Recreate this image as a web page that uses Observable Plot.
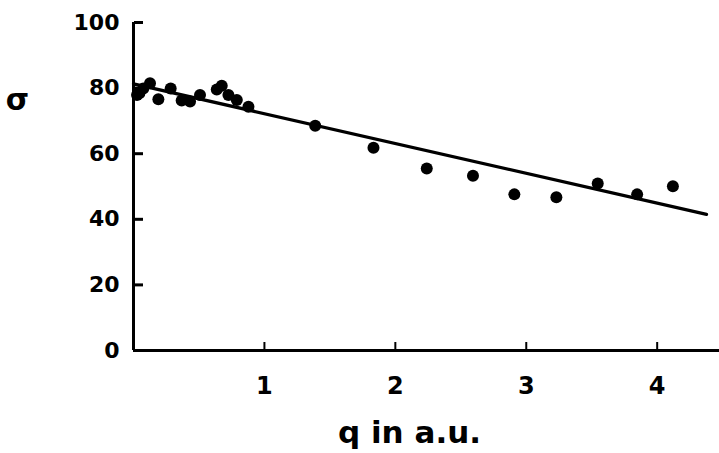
<!DOCTYPE html>
<html>
<head>
<meta charset="utf-8">
<script src="https://cdn.jsdelivr.net/npm/d3@7"></script>
<script src="https://cdn.jsdelivr.net/npm/@observablehq/plot@0.6"></script>
<style>
  html, body { margin: 0; padding: 0; background: #fff; }
  svg { display: block; }
</style>
</head>
<body>
<div id="chart"></div>
<script>
// Measured points: q (a.u.) and sigma
const qValues = [0.027, 0.045, 0.075, 0.126, 0.19, 0.284, 0.368, 0.432, 0.508, 0.636, 0.674, 0.725, 0.789, 0.878, 1.388, 1.833, 2.24, 2.593, 2.909, 3.23, 3.546, 3.847, 4.12];
const sigmaValues = [77.9, 78.4, 79.9, 81.5, 76.6, 79.9, 76.2, 75.9, 77.9, 79.6, 80.7, 77.9, 76.4, 74.3, 68.5, 61.8, 55.5, 53.3, 47.6, 46.7, 50.9, 47.6, 50.1];

// Fitted straight line
const lineQ = [0, 4.377];
const lineSigma = [81.3, 41.5];

const xTicks = [1, 2, 3, 4];
const yTickLabels = [0, 20, 40, 60, 80, 100];
const yTickMarks = [20, 40, 60, 80, 100];
const xLabel = "q in a.u.";
const yLabel = "σ";

const points = qValues.map((q, i) => ({q, s: sigmaValues[i]}));
const fit = lineQ.map((q, i) => ({q, s: lineSigma[i]}));

const W = 719, H = 453, ML = 133, MR = 0, MT = 22, MB = 103;
const frameW = W - ML - MR, frameH = H - MT - MB;

const chart = Plot.plot({
  width: W,
  height: H,
  marginLeft: ML,
  marginRight: MR,
  marginTop: MT,
  marginBottom: MB,
  style: {fontFamily: "DejaVu Sans", fontWeight: "bold", color: "#000", background: "#fff"},
  x: {domain: [0, 4.476]},
  y: {domain: [0, 100]},
  marks: [
    Plot.axisY({ticks: yTickLabels, tickSize: 0, tickPadding: 14, fontSize: 22, fontWeight: "bold", tickFormat: d3.format("d"), label: null}),
    Plot.axisX({ticks: xTicks, tickSize: 0, tickPadding: 26, fontSize: 24, fontWeight: "bold", tickFormat: d3.format("d"), label: null}),
    Plot.tickY(yTickMarks, {y: d => d, insetLeft: 1, insetRight: frameW - 10, strokeWidth: 3, stroke: "#000"}),
    Plot.tickX(xTicks, {x: d => d, insetTop: frameH - 8, strokeWidth: 2, stroke: "#000"}),
    Plot.ruleY([0], {strokeWidth: 3, stroke: "#000"}),
    Plot.ruleX([0], {strokeWidth: 3, stroke: "#000"}),
    Plot.line(fit, {x: "q", y: "s", stroke: "#000", strokeWidth: 3.2}),
    Plot.dot(points, {x: "q", y: "s", r: 6, fill: "#000", stroke: "none"}),
    Plot.text([xLabel], {frameAnchor: "bottom", lineAnchor: "middle", textAnchor: "middle", dx: -17, dy: 83, fontSize: 31, fontWeight: "bold", fill: "#000"}),
    Plot.text([yLabel], {frameAnchor: "top-left", lineAnchor: "middle", textAnchor: "middle", dx: -116, dy: 78, fontSize: 30, fontWeight: "bold", fill: "#000"})
  ]
});
document.getElementById("chart").appendChild(chart);
</script>
</body>
</html>
